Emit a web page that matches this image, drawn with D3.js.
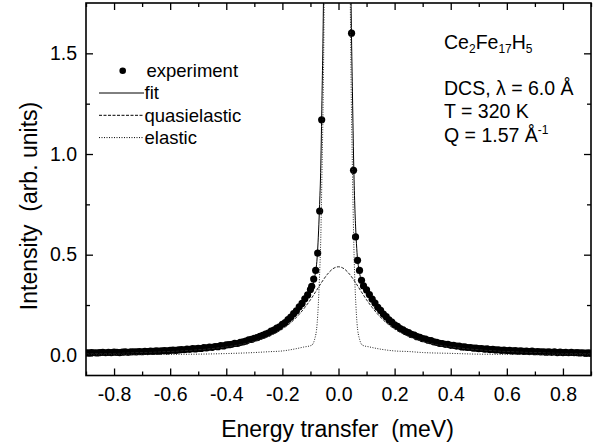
<!DOCTYPE html>
<html>
<head>
<meta charset="utf-8">
<script src="https://cdn.jsdelivr.net/npm/d3@7"></script>
<style>
  body { margin: 0; background: #fff; }
  text { font-family: "Liberation Sans", Arial, Helvetica, sans-serif; fill: #000; }
</style>
</head>
<body>
<svg id="chart" width="600" height="448"></svg>
<script>
// ---- data ----
// experiment, tails sampled every 0.01 meV
var tailStep = 0.01;
var leftTailStart = -0.90;
var leftTailI = [0.013,0.012,0.014,0.013,0.012,0.014,0.015,0.013,0.015,0.014,
  0.016,0.015,0.014,0.016,0.017,0.015,0.017,0.018,0.017,0.019,
  0.018,0.020,0.019,0.021,0.020,0.022,0.021,0.023,0.024,0.022,
  0.025,0.026,0.025,0.027,0.029,0.028,0.031,0.030,0.033,0.032,
  0.035,0.034,0.038,0.037,0.041,0.040,0.044,0.043,0.048,0.047,
  0.052,0.053,0.055,0.060,0.059,0.065,0.067,0.071,0.077,0.079,
  0.085,0.088,0.095,0.099,0.106,0.111,0.120,0.125,0.135,0.142,
  0.154,0.163,0.178,0.190,0.207,0.221,0.241,0.258,0.281,0.300,0.327];
var rightTailStart = 0.10;
var rightTailI = [0.325,0.302,0.279,0.260,0.239,0.223,0.205,0.192,0.176,0.165,
  0.152,0.144,0.133,0.127,0.118,0.113,0.104,0.101,0.093,0.090,
  0.083,0.081,0.075,0.073,0.067,0.065,0.060,0.059,0.055,0.055,
  0.050,0.050,0.046,0.046,0.042,0.042,0.039,0.039,0.036,0.036,
  0.033,0.034,0.031,0.032,0.029,0.030,0.027,0.028,0.025,0.026,
  0.024,0.025,0.022,0.024,0.021,0.023,0.020,0.021,0.019,0.021,
  0.018,0.019,0.017,0.018,0.016,0.017,0.015,0.017,0.014,0.016,
  0.014,0.015,0.013,0.015,0.013,0.014,0.012,0.013,0.011,0.012,0.011];
// experiment, points around the peak
var peakE = [-0.0955,-0.0884,-0.0813,-0.0742,-0.0671,-0.0600,-0.0529,-0.0458,-0.0387,
  -0.0316,-0.0245,-0.0174,-0.0103,-0.0032,0.0039,0.0110,0.0181,0.0252,0.0323,
  0.0394,0.0465,0.0536,0.0607,0.0678,0.0749,0.0820,0.0891];
var peakI = [0.343,0.379,0.422,0.508,0.717,1.17,2.2,3.1,4.8,
  6.5,8.8,10.4,11.4,11.6,10.9,9.2,6.9,4.9,3.3,
  2.1,1.60,0.919,0.588,0.472,0.422,0.373,0.345];

// fit and elastic share one energy grid
var curveE = [-0.9,-0.8,-0.7,-0.6,-0.5,-0.4,-0.3,-0.25,-0.2,-0.155,-0.125,-0.096,-0.085,
  -0.076,-0.072,-0.068,-0.063,-0.059,-0.054,-0.050,-0.041,-0.032,-0.024,-0.015,-0.006,
  0.004,0.014,0.023,0.032,0.041,0.045,0.050,0.054,0.058,0.062,0.066,0.075,0.086,
  0.11,0.145,0.2,0.25,0.3,0.4,0.5,0.6,0.7,0.8,0.9];
var fitI = [0.012,0.0145,0.019,0.025,0.034,0.051,0.084,0.112,0.153,0.214,0.270,0.335,0.388,
  0.488,0.587,0.725,0.946,1.265,1.715,2.313,4.04,6.395,8.956,11.0,11.8,
  11.01,8.965,6.407,4.055,2.330,1.733,1.283,0.965,0.747,0.608,0.510,0.410,0.356,
  0.298,0.228,0.153,0.113,0.084,0.052,0.034,0.025,0.019,0.0145,0.012];
var elasticI = [0.003,0.0035,0.004,0.005,0.006,0.009,0.014,0.018,0.022,0.032,0.041,0.050,0.08,
  0.16,0.25,0.38,0.59,0.90,1.34,1.93,3.64,5.98,8.53,10.57,11.36,
  10.57,8.53,5.98,3.64,1.93,1.34,0.90,0.59,0.38,0.25,0.16,0.08,0.050,
  0.042,0.032,0.022,0.019,0.014,0.010,0.006,0.005,0.004,0.0035,0.003];

var quasiE = [-0.9,-0.8,-0.7,-0.6,-0.5,-0.4,-0.35,-0.3,-0.25,-0.2,-0.18,-0.16,-0.14,-0.12,-0.1,
  -0.08,-0.06,-0.04,-0.02,0,0.02,0.04,0.06,0.08,0.1,0.12,0.14,0.16,0.18,0.2,0.25,0.3,
  0.35,0.4,0.5,0.6,0.7,0.8,0.9];
var quasiI = [0.009,0.0113,0.0147,0.0197,0.0279,0.042,0.0533,0.0696,0.0937,0.131,0.151,0.175,0.204,0.238,0.276,
  0.319,0.363,0.402,0.430,0.440,0.430,0.402,0.363,0.319,0.276,0.238,0.204,0.175,0.151,0.131,0.0937,0.0696,
  0.0533,0.042,0.0279,0.0197,0.0147,0.0113,0.009];

var xMajor = [-0.8,-0.6,-0.4,-0.2,0.0,0.2,0.4,0.6,0.8];
var xMinor = [-0.9,-0.7,-0.5,-0.3,-0.1,0.1,0.3,0.5,0.7,0.9];
var yMajor = [0.0,0.5,1.0,1.5];
var yMinor = [0.25,0.75,1.25];

var legendItems = [
  { label: 'experiment', type: 'dot' },
  { label: 'fit', type: 'line', dash: null },
  { label: 'quasielastic', type: 'line', dash: '3,1.5' },
  { label: 'elastic', type: 'line', dash: '1,1.5' }
];

// ---- layout ----
var svg = d3.select('#chart');
var x = d3.scaleLinear().domain([-0.9, 0.9]).range([86, 591]);
var y = d3.scaleLinear().domain([-0.1, 1.75]).range([375.5, 3]);
var plotLeft = x.range()[0], plotRight = x.range()[1],
    plotTop = y.range()[1], plotBottom = y.range()[0];
var dotR = 3.6;

// build experiment point list
var expPoints = [];
leftTailI.forEach(function(v, i) { expPoints.push([leftTailStart + i * tailStep, v]); });
peakE.forEach(function(e, i) { expPoints.push([e, peakI[i]]); });
rightTailI.forEach(function(v, i) { expPoints.push([rightTailStart + i * tailStep, v]); });

svg.append('defs').append('clipPath').attr('id', 'plotClip')
  .append('rect').attr('x', plotLeft).attr('y', plotTop)
  .attr('width', plotRight - plotLeft).attr('height', plotBottom - plotTop);

var plot = svg.append('g').attr('clip-path', 'url(#plotClip)');

// experiment dots
plot.selectAll('circle.exp')
  .data(expPoints)
  .enter().append('circle')
  .attr('class', 'exp')
  .attr('cx', function(d) { return x(d[0]); })
  .attr('cy', function(d) { return y(d[1]); })
  .attr('r', dotR)
  .attr('fill', '#000');

var line = d3.line()
  .x(function(d) { return x(d[0]); })
  .y(function(d) { return y(Math.min(d[1], 4)); })
  .curve(d3.curveMonotoneX);

function pairs(es, vs) { return es.map(function(e, i) { return [e, vs[i]]; }); }

plot.append('path').datum(pairs(quasiE, quasiI))
  .attr('d', line).attr('fill', 'none').attr('stroke', '#222')
  .attr('stroke-width', 1).attr('stroke-dasharray', '3,1.5');
plot.append('path').datum(pairs(curveE, elasticI))
  .attr('d', line).attr('fill', 'none').attr('stroke', '#222')
  .attr('stroke-width', 1).attr('stroke-dasharray', '1,1.5');
plot.append('path').datum(pairs(curveE, fitI))
  .attr('d', line).attr('fill', 'none').attr('stroke', '#000')
  .attr('stroke-width', 1);

// ---- axes (ticks inward on all four sides) ----
var fmt = function(d) { return d.toFixed(1); };

function styleAxis(g, hideLabels) {
  g.select('.domain').remove();
  g.selectAll('.tick line').attr('stroke', '#000').attr('stroke-width', 1.3);
  g.selectAll('.tick text')
    .style('font-family', '"Liberation Sans", Arial, sans-serif')
    .style('font-size', '19.5px')
    .attr('fill', '#000');
  if (hideLabels) g.selectAll('.tick text').remove();
}

svg.append('g').attr('transform', 'translate(0,' + plotBottom + ')')
  .call(d3.axisBottom(x).tickValues(xMajor).tickSizeInner(-7).tickSizeOuter(0).tickPadding(12).tickFormat(fmt))
  .call(styleAxis, false);
svg.append('g').attr('transform', 'translate(0,' + plotBottom + ')')
  .call(d3.axisBottom(x).tickValues(xMinor).tickSizeInner(-4).tickSizeOuter(0))
  .call(styleAxis, true);
svg.append('g').attr('transform', 'translate(0,' + plotTop + ')')
  .call(d3.axisTop(x).tickValues(xMajor).tickSizeInner(-7).tickSizeOuter(0))
  .call(styleAxis, true);
svg.append('g').attr('transform', 'translate(0,' + plotTop + ')')
  .call(d3.axisTop(x).tickValues(xMinor).tickSizeInner(-4).tickSizeOuter(0))
  .call(styleAxis, true);

svg.append('g').attr('transform', 'translate(' + plotLeft + ',0)')
  .call(d3.axisLeft(y).tickValues(yMajor).tickSizeInner(-7).tickSizeOuter(0).tickPadding(9).tickFormat(fmt))
  .call(styleAxis, false);
svg.append('g').attr('transform', 'translate(' + plotLeft + ',0)')
  .call(d3.axisLeft(y).tickValues(yMinor).tickSizeInner(-4).tickSizeOuter(0))
  .call(styleAxis, true);
svg.append('g').attr('transform', 'translate(' + plotRight + ',0)')
  .call(d3.axisRight(y).tickValues(yMajor).tickSizeInner(-7).tickSizeOuter(0))
  .call(styleAxis, true);
svg.append('g').attr('transform', 'translate(' + plotRight + ',0)')
  .call(d3.axisRight(y).tickValues(yMinor).tickSizeInner(-4).tickSizeOuter(0))
  .call(styleAxis, true);

// frame
svg.append('rect')
  .attr('x', plotLeft).attr('y', plotTop)
  .attr('width', plotRight - plotLeft).attr('height', plotBottom - plotTop)
  .attr('fill', 'none').attr('stroke', '#000').attr('stroke-width', 1.6);

// axis titles
svg.append('text')
  .attr('x', 337.5).attr('y', 437)
  .attr('text-anchor', 'middle')
  .style('font-size', '23px').style('white-space', 'pre')
  .text('Energy transfer  (meV)');
svg.append('text')
  .attr('transform', 'translate(36.5,206) rotate(-90)')
  .attr('text-anchor', 'middle')
  .style('font-size', '23px').style('white-space', 'pre')
  .text('Intensity  (arb. units)');

// ---- legend ----
var legend = svg.append('g');
legendItems.forEach(function(item, i) {
  var cy = 70.7 + i * 22.3;
  if (item.type === 'dot') {
    legend.append('circle').attr('cx', 122.7).attr('cy', cy).attr('r', 3.3).attr('fill', '#000');
  } else {
    legend.append('line').attr('x1', 99).attr('x2', 144).attr('y1', cy).attr('y2', cy)
      .attr('stroke', '#000').attr('stroke-width', 1)
      .attr('stroke-dasharray', item.dash);
  }
  legend.append('text')
    .attr('x', item.type === 'dot' ? 146.5 : 144.5).attr('y', cy + 6.3)
    .style('font-size', '18.5px')
    .text(item.label);
});

// ---- annotations ----
var ann = svg.append('g').style('font-size', '19.5px');
var t1 = ann.append('text').attr('x', 444).attr('y', 48.5);
t1.append('tspan').text('Ce');
t1.append('tspan').attr('dy', 4.5).style('font-size', '12px').text('2');
t1.append('tspan').attr('dy', -4.5).text('Fe');
t1.append('tspan').attr('dy', 4.5).style('font-size', '12px').text('17');
t1.append('tspan').attr('dy', -4.5).text('H');
t1.append('tspan').attr('dy', 4.5).style('font-size', '12px').text('5');

ann.append('text').attr('x', 444).attr('y', 95).text('DCS, \u03bb = 6.0 \u00c5');
ann.append('text').attr('x', 444).attr('y', 118.3).text('T = 320 K');
var t4 = ann.append('text').attr('x', 444).attr('y', 141.7);
t4.append('tspan').text('Q = 1.57 \u00c5');
t4.append('tspan').attr('dy', -8).style('font-size', '12px').text('-1');
</script>
</body>
</html>
